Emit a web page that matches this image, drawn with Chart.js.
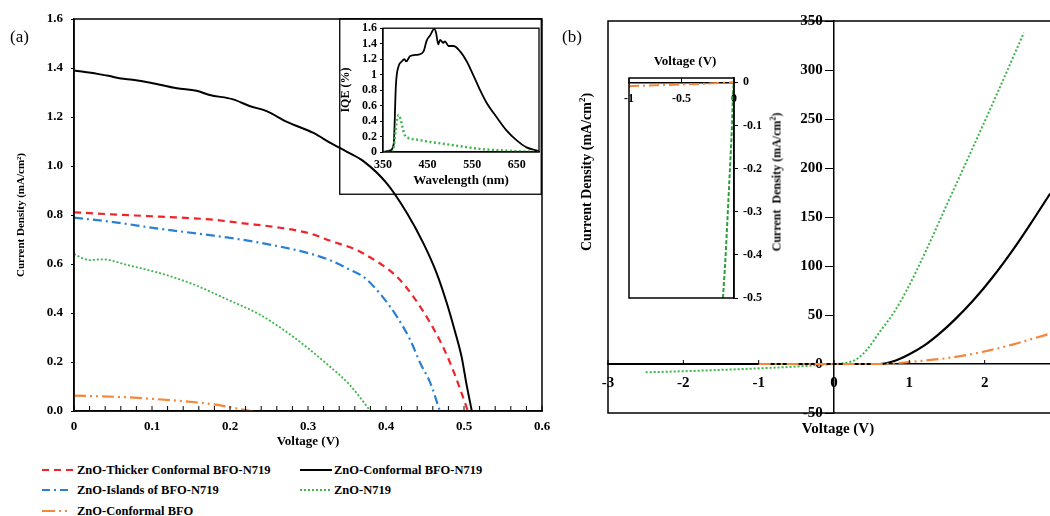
<!DOCTYPE html>
<html>
<head>
<meta charset="utf-8">
<script src="https://cdn.jsdelivr.net/npm/chart.js@4.4.1/dist/chart.umd.min.js"></script>
<style>
html,body{margin:0;padding:0;background:#fff;overflow:hidden;}
body{width:1050px;height:516px;position:relative;font-family:"Liberation Serif","Times New Roman",serif;color:#000;}
.box{position:absolute;}
.t{position:absolute;font-weight:bold;white-space:nowrap;line-height:1;}
.rot{transform:translate(-50%,-50%) rotate(-90deg);}
.ctr{transform:translate(-50%,-50%);}
.leg{position:absolute;height:16px;font-weight:bold;font-size:12.5px;line-height:16px;white-space:nowrap;}
.leg svg{position:absolute;top:0;}
</style>
</head>
<body>
<div class="box" style="left:0;top:0;width:560px;height:450px"><canvas id="cA"></canvas></div>
<div class="box" style="left:339px;top:18px;width:203px;height:177px"><canvas id="cAi"></canvas></div>
<div class="box" style="left:560px;top:0;width:520px;height:450px"><canvas id="cB"></canvas></div>
<div class="box" style="left:600px;top:40px;width:200px;height:280px"><canvas id="cBi"></canvas></div>

<div class="t" style="left:10px;top:28px;font-size:17px;font-weight:normal">(a)</div>
<div class="t" style="left:562px;top:28px;font-size:17px;font-weight:normal">(b)</div>
<div class="t rot" style="left:586px;top:172px;font-size:14px">Current Density (mA/cm<sup style="font-size:9px">2</sup>)</div>
<div class="t ctr" style="left:838px;top:428px;font-size:15px">Voltage (V)</div>
<div class="t ctr" style="left:685px;top:60px;font-size:13px">Voltage (V)</div>
<div class="t rot" style="left:776px;top:182px;font-size:12px">Current&nbsp; Density (mA/cm<sup style="font-size:8px">2</sup>)</div>

<div id="legend"></div>

<script>
// ---------- Panel (a): J–V curves ----------
const aThickV = [0, 0.046, 0.111, 0.174, 0.217, 0.26, 0.302, 0.332, 0.354, 0.371, 0.414, 0.435, 0.457, 0.473, 0.486, 0.497, 0.505];
const aThickJ = [0.811, 0.803, 0.793, 0.782, 0.766, 0.75, 0.725, 0.691, 0.668, 0.643, 0.548, 0.467, 0.358, 0.262, 0.167, 0.072, 0];

const aConfV = [0, 0.03, 0.046, 0.06, 0.075, 0.098, 0.132, 0.157, 0.174, 0.204, 0.225, 0.247, 0.273, 0.307, 0.33, 0.35, 0.371, 0.401, 0.427, 0.448, 0.465, 0.478, 0.488, 0.497, 0.503, 0.51];
const aConfJ = [1.39, 1.376, 1.367, 1.357, 1.352, 1.34, 1.317, 1.307, 1.29, 1.272, 1.245, 1.224, 1.18, 1.135, 1.092, 1.058, 1.02, 0.929, 0.807, 0.684, 0.562, 0.44, 0.33, 0.22, 0.113, 0];

const aIslV = [0, 0.046, 0.111, 0.174, 0.238, 0.302, 0.328, 0.354, 0.371, 0.392, 0.414, 0.431, 0.444, 0.457, 0.469];
const aIslJ = [0.789, 0.773, 0.743, 0.718, 0.687, 0.643, 0.616, 0.576, 0.548, 0.48, 0.385, 0.29, 0.195, 0.113, 0];

const aZnoV = [0, 0.02, 0.037, 0.068, 0.111, 0.153, 0.196, 0.239, 0.281, 0.323, 0.354, 0.38];
const aZnoJ = [0.64, 0.616, 0.619, 0.596, 0.562, 0.517, 0.456, 0.392, 0.303, 0.195, 0.105, 0];

const aBfoV = [0, 0.067, 0.132, 0.174, 0.208, 0.24];
const aBfoJ = [0.063, 0.056, 0.042, 0.029, 0.011, -0.008];

const aXTicks = [0, 0.1, 0.2, 0.3, 0.4, 0.5, 0.6];
const aXTickLabels = ['0', '0.1', '0.2', '0.3', '0.4', '0.5', '0.6'];
const aYTicks = [0, 0.2, 0.4, 0.6, 0.8, 1.0, 1.2, 1.4, 1.6];
const aYTickLabels = ['0.0', '0.2', '0.4', '0.6', '0.8', '1.0', '1.2', '1.4', '1.6'];

// ---------- Panel (a) inset: IQE ----------
const iqeBlackWl = [350, 366, 374, 379, 385, 392, 398, 402, 411, 430, 441, 448, 456, 465, 469, 474, 478, 485, 489, 497, 508, 523, 538, 552, 567, 582, 605, 627, 650, 672, 694, 700];
const iqeBlackVal = [0, 0.02, 0.1, 0.87, 1.11, 1.17, 1.2, 1.17, 1.24, 1.26, 1.30, 1.44, 1.51, 1.59, 1.54, 1.39, 1.45, 1.41, 1.43, 1.37, 1.37, 1.30, 1.17, 1.0, 0.81, 0.64, 0.45, 0.28, 0.15, 0.06, 0.02, 0.01];
const iqeGreenWl = [350, 370, 374, 380, 385, 390, 398, 407, 426, 456, 493, 530, 567, 620, 700];
const iqeGreenVal = [0, 0, 0.06, 0.36, 0.48, 0.41, 0.23, 0.18, 0.16, 0.13, 0.10, 0.07, 0.04, 0.02, 0];
const iqeXTicks = [350, 450, 550, 650];
const iqeXTickLabels = ['350', '450', '550', '650'];
const iqeYTicks = [0, 0.2, 0.4, 0.6, 0.8, 1.0, 1.2, 1.4, 1.6];
const iqeYTickLabels = ['0', '0.2', '0.4', '0.6', '0.8', '1', '1.2', '1.4', '1.6'];

// ---------- Panel (b): dark J–V ----------
const bZnoV = [-2.5, -2, -1.5, -0.98, -0.5, -0.19, 0, 0.17, 0.3, 0.43, 0.61, 0.79, 0.97, 1.23, 1.5, 1.85, 2.16, 2.52];
const bZnoJ = [-8.5, -7.4, -6, -4.4, -2.6, -1, 0, 1.3, 5, 14, 33, 52, 76, 117, 163, 222, 275, 338];
const bConfV = [-3, 0, 0.6, 0.8, 1.0, 1.2, 1.4, 1.6, 1.85, 2.1, 2.38, 2.6, 2.87];
const bConfJ = [0, 0, 0, 3, 10, 19, 31, 45, 65, 88, 117, 142, 174];
const bBfoV = [-1, 0, 0.65, 0.74, 1.05, 1.5, 1.98, 2.38, 2.6, 2.87];
const bBfoJ = [-0.01, 0, 0, 0.3, 2.4, 6, 12.5, 20, 25, 31];
const bXTicks = [-3, -2, -1, 0, 1, 2, 3];
const bXTickLabels = ['-3', '-2', '-1', '0', '1', '2', '3'];
const bYTicks = [-50, 0, 50, 100, 150, 200, 250, 300, 350];
const bYTickLabels = ['-50', '0', '50', '100', '150', '200', '250', '300', '350'];

// ---------- Panel (b) inset ----------
const biBfoV = [-1, -0.75, -0.5, -0.25, 0];
const biBfoJ = [-0.009, -0.007, -0.005, -0.003, 0];
const biZnoV = [-0.105, -0.082, -0.05, -0.019, -0.01, 0];
const biZnoJ = [-0.5, -0.412, -0.258, -0.103, -0.026, 0.008];
const biXTicks = [-1, -0.5, 0];
const biXTickLabels = ['-1', '-0.5', '0'];
const biYTicks = [-0.5, -0.4, -0.3, -0.2, -0.1, 0];
const biYTickLabels = ['-0.5', '-0.4', '-0.3', '-0.2', '-0.1', '0'];

// ---------- styles ----------
const RED = '#ef2328', BLACK = '#000000', BLUE = '#2a80d2', GREEN = '#3db54a', GREEN2 = '#2a9e3a', ORANGE = '#f5863a';
const DASH_RED = [7, 5], DASH_BLUE = [9, 4, 2, 4], DASH_GREEN = [2, 2], DASH_ORANGE = [12, 4, 2, 4, 2, 4];
const SERIF = "'Liberation Serif','Times New Roman',serif";
Chart.defaults.font.family = SERIF;
Chart.defaults.color = '#000';

function pts(xs, ys) { return xs.map((x, i) => ({x: x, y: ys[i]})); }
function ds(label, xs, ys, color, dash, width, smooth) {
  return {label: label, data: pts(xs, ys), borderColor: color, backgroundColor: color,
    borderDash: dash, borderWidth: width, pointRadius: 0, fill: false,
    cubicInterpolationMode: smooth ? 'monotone' : 'default', tension: 0};
}
function setTicks(arr) { return s => { s.ticks = arr.map(v => ({value: v})); }; }
function bold(size) { return {family: SERIF, size: size, weight: 'bold'}; }

function makeFrame(cfg) {
  return {
    id: 'frame',
    afterDraw(chart) {
      const ctx = chart.ctx, a = chart.chartArea;
      ctx.save();
      ctx.strokeStyle = '#000';
      ctx.lineWidth = cfg.width || 1.5;
      if (cfg.outer) ctx.strokeRect(0.75, 0.75, chart.width - 1.5, chart.height - 1.5);
      if (cfg.area) ctx.strokeRect(a.left, a.top, a.right - a.left, a.bottom - a.top);
      ctx.lineWidth = 1;
      (cfg.ticks || []).forEach(t => {
        const s = chart.scales[t.id];
        const base = t.cross ? chart.scales[t.cross].getPixelForValue(t.at) : a.bottom;
        ctx.beginPath();
        t.values.forEach(v => { const p = s.getPixelForValue(v); ctx.moveTo(p, base); ctx.lineTo(p, base - t.len); });
        ctx.stroke();
      });
      ctx.restore();
    }
  };
}

const aXMinor = [];
for (let i = 0; i <= 30; i++) aXMinor.push(i * 0.02);

const common = {responsive: true, maintainAspectRatio: false, animation: false,
  plugins: {legend: {display: false}, tooltip: {enabled: false}}};

// ---------- Chart (a) ----------
new Chart(document.getElementById('cA'), {
  type: 'line',
  data: {datasets: [
    ds('ZnO-Conformal BFO', aBfoV, aBfoJ, ORANGE, DASH_ORANGE, 2.2, true),
    ds('ZnO-N719', aZnoV, aZnoJ, GREEN, DASH_GREEN, 1.8, true),
    ds('ZnO-Islands of BFO-N719', aIslV, aIslJ, BLUE, DASH_BLUE, 2.2, true),
    ds('ZnO-Thicker Conformal BFO-N719', aThickV, aThickJ, RED, DASH_RED, 2.2, true),
    ds('ZnO-Conformal BFO-N719', aConfV, aConfJ, BLACK, [], 2, true)
  ]},
  options: Object.assign({}, common, {
    layout: {padding: {left: 0, top: 19, right: 18, bottom: 0}},
    scales: {
      x: {type: 'linear', min: 0, max: 0.6,
        afterBuildTicks: setTicks(aXTicks),
        afterFit: s => { s.height = 39; },
        ticks: {autoSkip: false, maxRotation: 0, padding: 8, font: bold(13), callback: (v, i) => aXTickLabels[i]},
        grid: {drawOnChartArea: false, drawTicks: false},
        border: {color: '#000', width: 1.5},
        title: {display: true, text: 'Voltage (V)', font: bold(13), padding: {top: 0, bottom: 1}}
      },
      y: {type: 'linear', min: 0, max: 1.6,
        afterBuildTicks: setTicks(aYTicks),
        afterFit: s => { s.width = 74; },
        ticks: {autoSkip: false, padding: 8, font: bold(13), callback: (v, i) => aYTickLabels[i]},
        grid: {drawOnChartArea: false, tickLength: 3, color: '#000'},
        border: {color: '#000', width: 1.5},
        title: {display: true, text: 'Current Density (mA/cm²)', font: bold(11), padding: {top: 15, bottom: 0}}
      }
    }
  }),
  plugins: [makeFrame({area: true, width: 1.5, ticks: [{id: 'x', values: aXMinor, len: 5}]})]
});

// ---------- Chart (a) inset ----------
new Chart(document.getElementById('cAi'), {
  type: 'line',
  data: {datasets: [
    ds('IQE ZnO-N719', iqeGreenWl, iqeGreenVal, GREEN, [2, 2.5], 2.4, true),
    ds('IQE ZnO-Conformal BFO-N719', iqeBlackWl, iqeBlackVal, BLACK, [], 1.8, true)
  ]},
  options: Object.assign({}, common, {
    layout: {padding: {left: 0, top: 9, right: 3, bottom: 0}},
    scales: {
      x: {type: 'linear', min: 350, max: 700,
        afterBuildTicks: setTicks(iqeXTicks),
        afterFit: s => { s.height = 43; },
        ticks: {autoSkip: false, maxRotation: 0, padding: 6, font: bold(12), callback: (v, i) => iqeXTickLabels[i]},
        grid: {drawOnChartArea: false, drawTicks: false},
        border: {color: '#000', width: 1.2},
        title: {display: true, text: 'Wavelength (nm)', font: bold(13), padding: {top: 0, bottom: 7}}
      },
      y: {type: 'linear', min: 0, max: 1.6,
        afterBuildTicks: setTicks(iqeYTicks),
        afterFit: s => { s.width = 44; },
        ticks: {autoSkip: false, padding: 3, font: bold(12), callback: (v, i) => iqeYTickLabels[i]},
        grid: {drawOnChartArea: false, tickLength: 3, color: '#000'},
        border: {color: '#000', width: 1.2},
        title: {display: true, text: 'IQE (%)', font: bold(12), padding: {top: 0, bottom: 0}}
      }
    }
  }),
  plugins: [makeFrame({outer: true, area: true, width: 1.3})]
});

// ---------- Chart (b) ----------
new Chart(document.getElementById('cB'), {
  type: 'line',
  data: {datasets: [
    ds('ZnO-Conformal BFO', bBfoV, bBfoJ, ORANGE, DASH_ORANGE, 2.2, true),
    ds('ZnO-Conformal BFO-N719', bConfV, bConfJ, BLACK, [], 2.2, true),
    ds('ZnO-N719', bZnoV, bZnoJ, GREEN, DASH_GREEN, 2, true)
  ]},
  options: Object.assign({}, common, {
    layout: {padding: {left: 48, top: 21, right: 20, bottom: 37}},
    scales: {
      x: {type: 'linear', min: -3, max: 3, position: {y: 0},
        afterBuildTicks: setTicks(bXTicks),
        ticks: {autoSkip: false, maxRotation: 0, padding: 10, font: bold(15), callback: (v, i) => bXTickLabels[i]},
        grid: {drawOnChartArea: false, drawTicks: false},
        border: {color: '#000', width: 1.5}
      },
      y: {type: 'linear', min: -50, max: 350, position: {x: 0},
        afterBuildTicks: setTicks(bYTicks),
        ticks: {autoSkip: false, padding: 4, font: bold(15), callback: (v, i) => bYTickLabels[i] + '\u2002 '},
        grid: {drawOnChartArea: false, tickLength: 8, color: '#000'},
        border: {color: '#000', width: 1.5}
      }
    }
  }),
  plugins: [makeFrame({area: true, width: 1.5, ticks: [{id: 'x', cross: 'y', at: 0, values: bXTicks, len: 4}]})]
});

// ---------- Chart (b) inset ----------
new Chart(document.getElementById('cBi'), {
  type: 'line',
  data: {datasets: [
    ds('ZnO-Conformal BFO', biBfoV, biBfoJ, ORANGE, [10, 4, 2, 4], 2, false),
    ds('ZnO-N719', biZnoV, biZnoJ, GREEN2, [4, 2], 2, false)
  ]},
  options: Object.assign({}, common, {
    layout: {padding: {left: 29, top: 38, right: 0, bottom: 22}},
    scales: {
      x: {type: 'linear', min: -1, max: 0, position: {y: 0},
        afterBuildTicks: setTicks(biXTicks),
        ticks: {autoSkip: false, maxRotation: 0, padding: 9, font: bold(12), callback: (v, i) => biXTickLabels[i]},
        grid: {drawOnChartArea: false, drawTicks: false},
        border: {color: '#000', width: 1.5}
      },
      y: {type: 'linear', min: -0.5, max: 0.01, position: 'right',
        afterBuildTicks: setTicks(biYTicks),
        afterFit: s => { s.width = 66; },
        ticks: {autoSkip: false, padding: 5, font: bold(12), callback: (v, i) => biYTickLabels[i]},
        grid: {drawOnChartArea: false, tickLength: 4, color: '#000'},
        border: {color: '#000', width: 1.5}
      }
    }
  }),
  plugins: [makeFrame({area: true, width: 1.5, ticks: [{id: 'x', cross: 'y', at: 0, values: biXTicks, len: 4}]})]
});

// ---------- HTML legend for panel (a) ----------
const legendItems = [
  {text: 'ZnO-Thicker Conformal BFO-N719', color: RED, dash: '7,5', x: 42, w: 31, tx: 77, y: 470, width: 2.2},
  {text: 'ZnO-Conformal BFO-N719', color: BLACK, dash: '', x: 300, w: 32, tx: 334, y: 470, width: 2},
  {text: 'ZnO-Islands of BFO-N719', color: BLUE, dash: '8,4,2,4,8', x: 42, w: 26, tx: 77, y: 490, width: 2.2},
  {text: 'ZnO-N719', color: GREEN, dash: '2,2', x: 300, w: 30, tx: 334, y: 490, width: 1.8},
  {text: 'ZnO-Conformal BFO', color: ORANGE, dash: '13,4,2,4,2', x: 42, w: 25, tx: 77, y: 511, width: 2.2}
];
const leg = document.getElementById('legend');
legendItems.forEach(it => {
  const d = document.createElement('div');
  d.className = 'leg';
  d.style.left = it.x + 'px';
  d.style.top = (it.y - 8) + 'px';
  d.innerHTML = '<svg width="' + it.w + '" height="16" style="left:0"><line x1="0" y1="8" x2="' + it.w + '" y2="8" stroke="' + it.color +
    '" stroke-width="' + it.width + '"' + (it.dash ? ' stroke-dasharray="' + it.dash + '"' : '') + '/></svg>' +
    '<span style="position:absolute;left:' + (it.tx - it.x) + 'px;top:0">' + it.text + '</span>';
  leg.appendChild(d);
});
</script>
</body>
</html>
